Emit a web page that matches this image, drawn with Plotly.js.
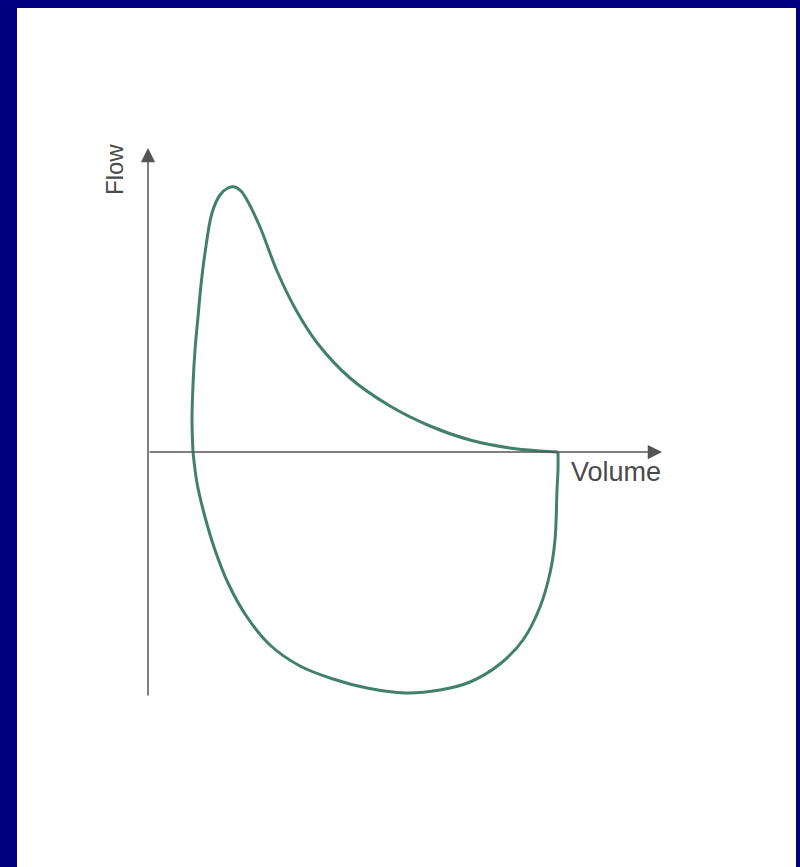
<!DOCTYPE html>
<html>
<head>
<meta charset="utf-8">
<script src="https://cdn.plot.ly/plotly-3.0.1.min.js"></script>
<style>
  html, body { margin: 0; padding: 0; background: #000080; }
  #chart { width: 800px; height: 867px; }
</style>
</head>
<body>
<div id="chart"></div>
<script>
// --- Flow-volume loop, values (arbitrary units) ---
// Expiratory limb: from the left x-axis crossing, up over the peak, down to the right end
const expVolume = [45, 44, 45, 47, 50, 53, 57, 64, 72, 80, 87, 93, 99, 112, 129, 148, 170, 202, 242, 282, 322, 362, 392, 410];
const expFlow   = [0, 32, 67, 102, 135, 167, 199, 239, 257, 264, 265, 261, 252, 225, 181, 142, 108, 74, 46, 26, 12, 4, 1, 0];

// Inspiratory limb: from the right end, down round the bottom, back to the left crossing
const inspVolume = [410, 410, 409, 407, 402, 392, 375, 352, 322, 292, 257, 219, 185, 152, 122, 99, 80, 67, 57, 49, 45];
const inspFlow   = [0, -18, -38, -88, -121, -155, -188, -212, -230, -238, -241, -236, -227, -214, -193, -165, -131, -98, -65, -31, 0];

const axisLabels = ['Flow', 'Volume'];

const curveColor = '#43806a';
const axisColor = '#555555';

const traces = [
    { x: expVolume, y: expFlow, type: 'scatter', mode: 'lines',
      line: { color: curveColor, width: 3, shape: 'spline', smoothing: 1 }, hoverinfo: 'skip' },
    { x: inspVolume, y: inspFlow, type: 'scatter', mode: 'lines',
      line: { color: curveColor, width: 3, shape: 'spline', smoothing: 1 }, hoverinfo: 'skip' }
];

const layout = {
    width: 800,
    height: 867,
    margin: { l: 0, r: 0, t: 0, b: 0, pad: 0 },
    paper_bgcolor: '#000080',
    plot_bgcolor: '#000080',
    showlegend: false,
    // plot area is the whole page: one data unit = one pixel, origin at the axes' corner
    xaxis: { range: [-148, 652], visible: false, fixedrange: true },
    yaxis: { range: [-415, 452], visible: false, fixedrange: true },
    shapes: [
        // white slide panel
        { type: 'rect', xref: 'paper', yref: 'paper', x0: 17 / 800, x1: 796 / 800, y0: 0, y1: 859 / 867,
          fillcolor: 'white', line: { width: 0 }, layer: 'below' }
    ],
    annotations: [
        // vertical axis with arrow
        { x: 0, y: 304, ax: 0, ay: -245, xref: 'x', yref: 'y', axref: 'x', ayref: 'y',
          text: '', showarrow: true, arrowhead: 2, arrowsize: 1.9, arrowwidth: 1.5,
          arrowcolor: axisColor, standoff: 0, startstandoff: 0 },
        // horizontal axis with arrow
        { x: 514, y: 0, ax: 0, ay: 0, xref: 'x', yref: 'y', axref: 'x', ayref: 'y',
          text: '', showarrow: true, arrowhead: 2, arrowsize: 1.9, arrowwidth: 1.5,
          arrowcolor: axisColor, standoff: 0, startstandoff: 0 },
        { x: -34, y: 282, xref: 'x', yref: 'y', text: axisLabels[0], showarrow: false, textangle: -90,
          font: { family: 'Liberation Sans, Arial, sans-serif', size: 24, color: '#4a4a4a' } },
        { x: 468, y: -20, xref: 'x', yref: 'y', text: axisLabels[1], showarrow: false,
          font: { family: 'Liberation Sans, Arial, sans-serif', size: 27, color: '#4a4a4a' } }
    ]
};

Plotly.newPlot('chart', traces, layout, { staticPlot: true });
</script>
</body>
</html>
